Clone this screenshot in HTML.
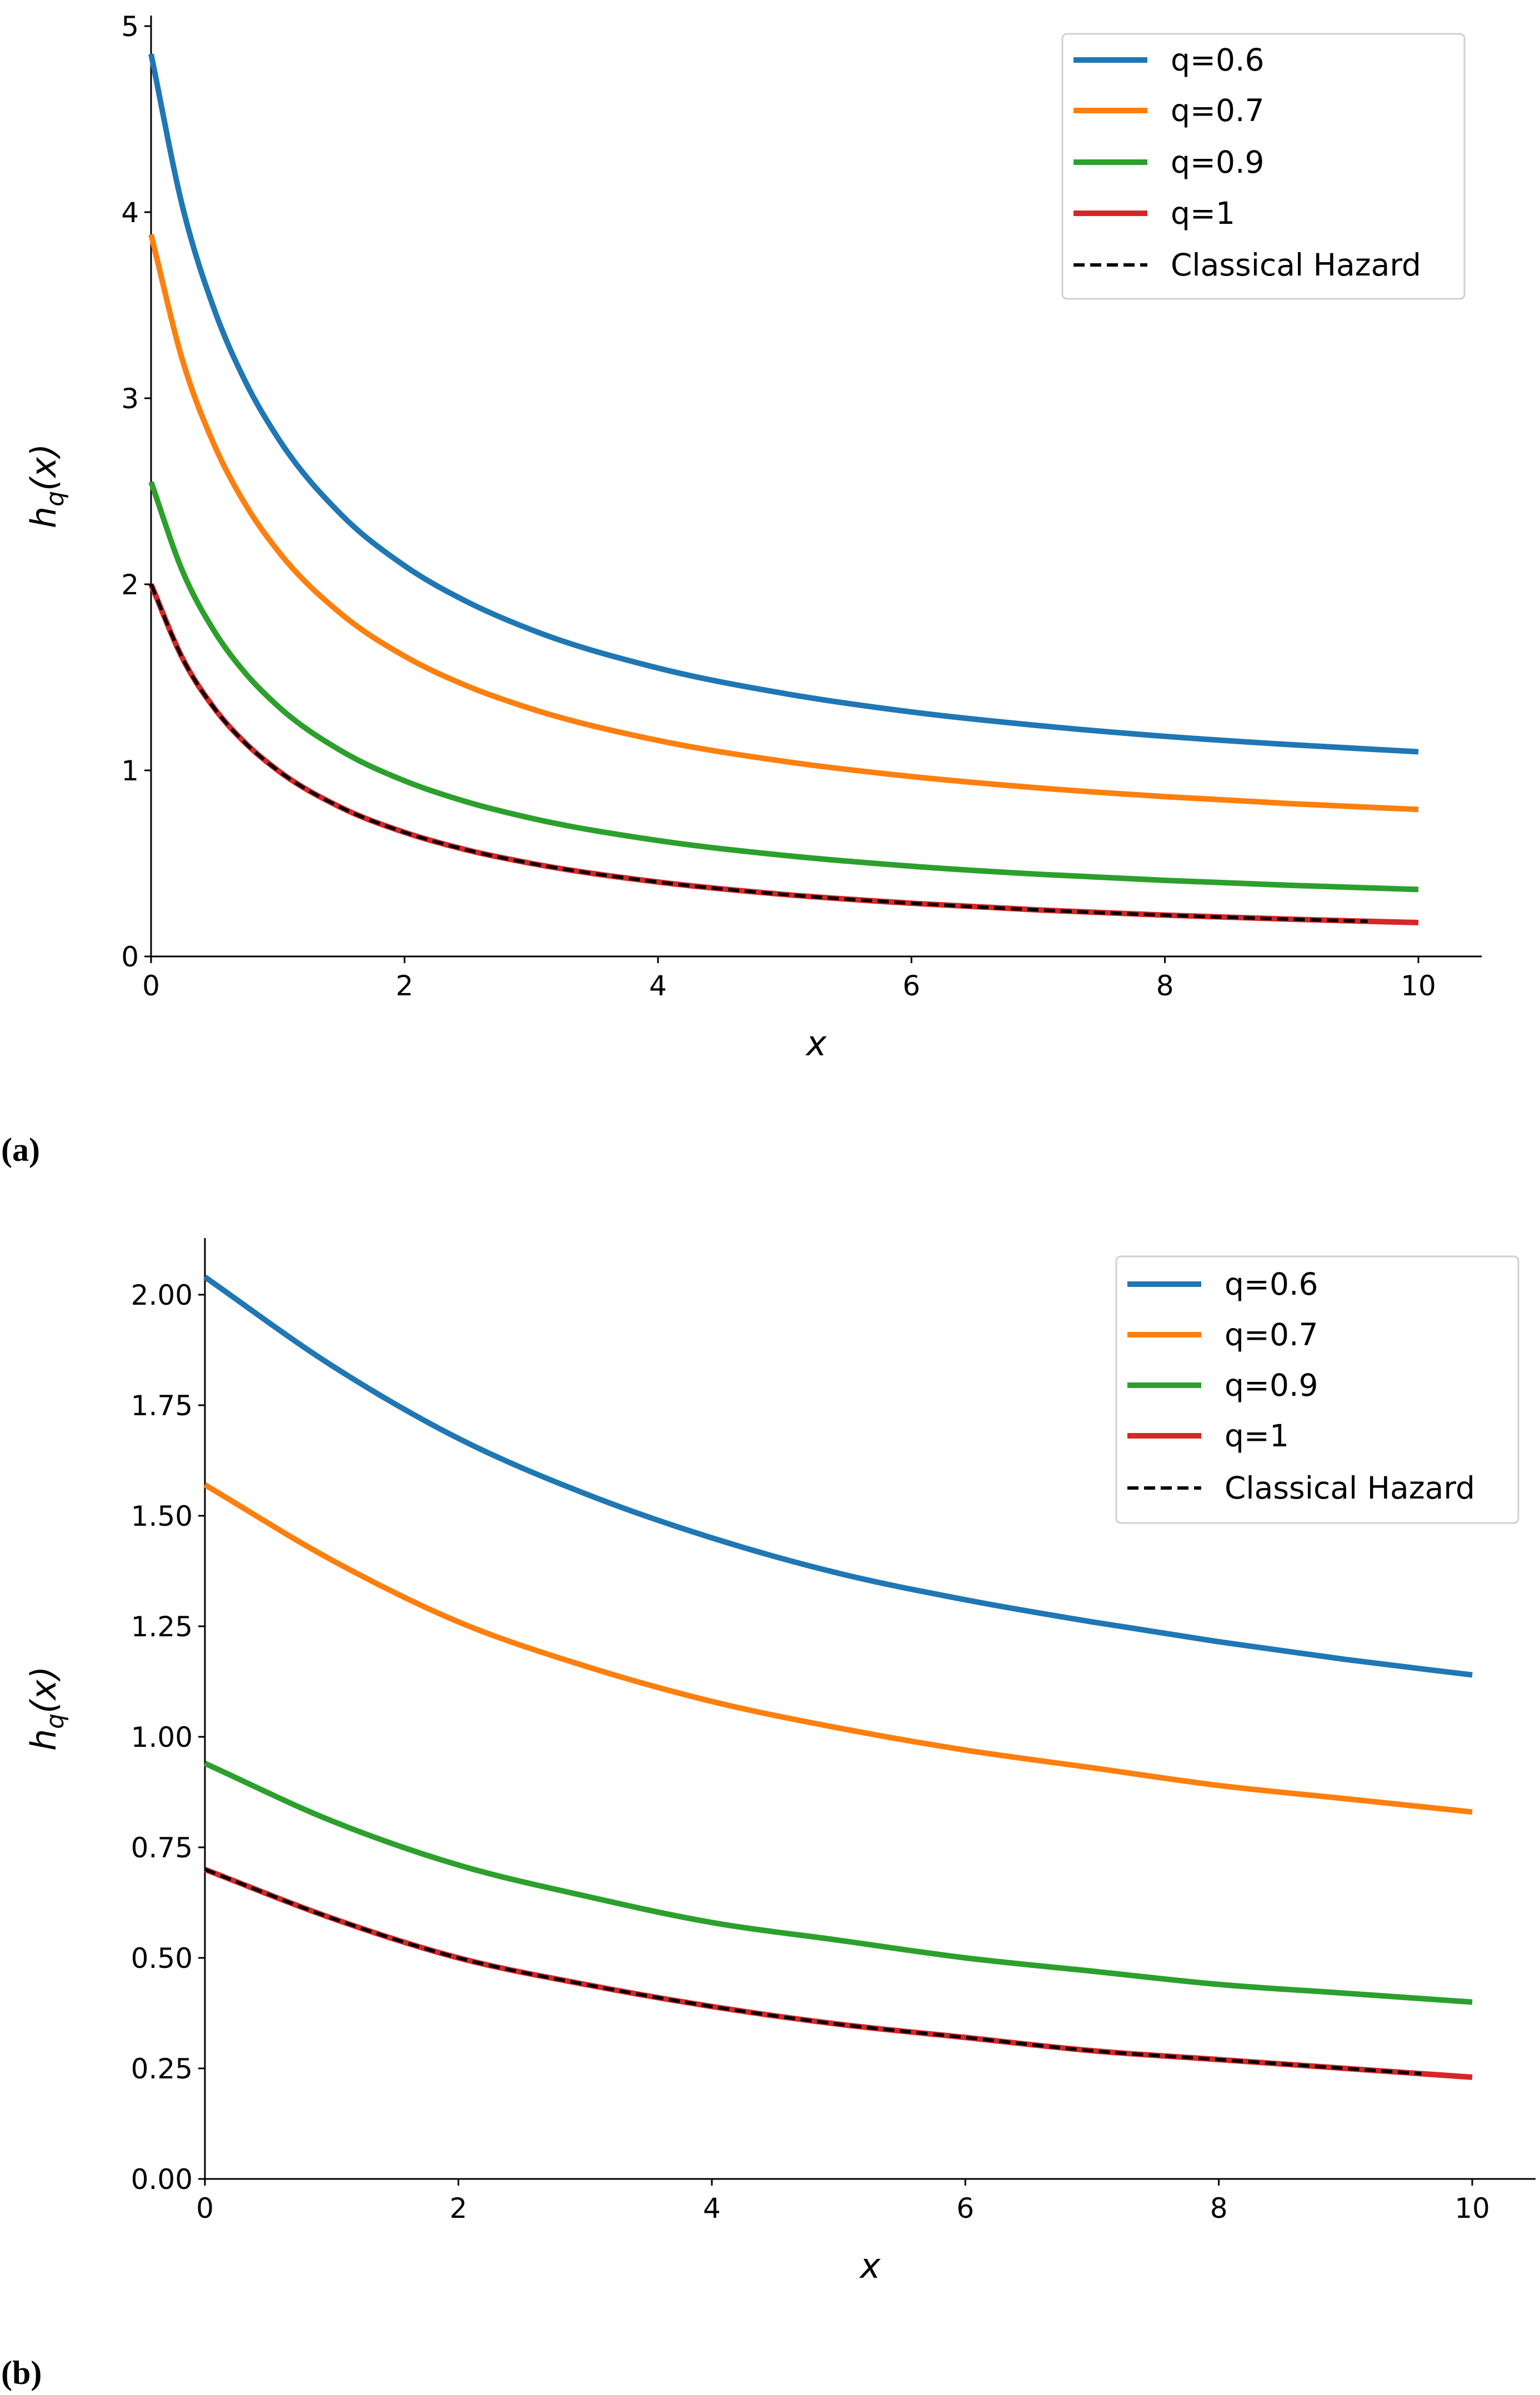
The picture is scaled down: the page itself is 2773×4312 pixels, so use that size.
<!DOCTYPE html>
<html><head><meta charset="utf-8"><style>
html,body{margin:0;padding:0;background:#fff;}
svg{display:block;font-family:"DejaVu Sans","Liberation Sans",sans-serif;}
</style></head><body>
<svg id="fig" width="2773" height="4312" viewBox="0 0 2773 4312" xmlns="http://www.w3.org/2000/svg"></svg>
<script>
const xsA = [0,0.25,0.5,0.75,1,1.5,2,2.5,3,4,5,6,7,8,9,10];
const a_q06 = [4.85,4.025,3.475,3.082,2.788,2.375,2.1,1.904,1.756,1.55,1.413,1.314,1.241,1.183,1.138,1.1];
const a_q07 = [3.88,3.2,2.747,2.423,2.181,1.841,1.614,1.452,1.331,1.161,1.048,0.967,0.906,0.859,0.821,0.79];
const a_q09 = [2.55,2.068,1.747,1.518,1.346,1.105,0.944,0.829,0.743,0.623,0.543,0.485,0.442,0.409,0.382,0.36];
const a_q1  = [2.0,1.6,1.333,1.143,1.0,0.8,0.667,0.571,0.5,0.4,0.333,0.286,0.25,0.222,0.2,0.182];
const a_yTicks = ["0","1","2","3","4","5"];
const xsB = [0,1,2,3,4,5,6,7,8,9,10];
const b_q06 = [2.04,1.84,1.675,1.55,1.45,1.37,1.31,1.26,1.215,1.175,1.14];
const b_q07 = [1.57,1.40,1.26,1.16,1.08,1.02,0.97,0.93,0.89,0.86,0.83];
const b_q09 = [0.94,0.81,0.71,0.64,0.58,0.54,0.50,0.47,0.44,0.42,0.40];
const b_q1  = [0.70,0.59,0.50,0.44,0.39,0.35,0.32,0.29,0.27,0.25,0.23];
const b_yTicks = ["0.00","0.25","0.50","0.75","1.00","1.25","1.50","1.75","2.00"];
const xTicks = ["0","2","4","6","8","10"];
const seriesNames = ["q=0.6","q=0.7","q=0.9","q=1","Classical Hazard"];
const colors = ["#1f77b4","#ff7f0e","#2ca02c","#d62728","#000"];

const NS="http://www.w3.org/2000/svg";
const svg=document.getElementById('fig');
function mk(tag,attrs,parent){const e=document.createElementNS(NS,tag);for(const k in attrs)e.setAttribute(k,attrs[k]);(parent||svg).appendChild(e);return e;}

function pathFrom(xs,ys,sx,sy){
  const n=xs.length, d=[], m=[];
  for(let i=0;i<n-1;i++) d.push((ys[i+1]-ys[i])/(xs[i+1]-xs[i]));
  for(let i=0;i<n;i++){
    if(i==0) m.push(d[0]); else if(i==n-1) m.push(d[n-2]);
    else { const h0=xs[i]-xs[i-1],h1=xs[i+1]-xs[i]; m.push((d[i-1]*h1+d[i]*h0)/(h0+h1)); }
  }
  let p="M"+sx(xs[0])+","+sy(ys[0]);
  for(let i=0;i<n-1;i++){
    const h=xs[i+1]-xs[i];
    p+=" C"+sx(xs[i]+h/3)+","+sy(ys[i]+m[i]*h/3)+" "+sx(xs[i+1]-h/3)+","+sy(ys[i+1]-m[i+1]*h/3)+" "+sx(xs[i+1])+","+sy(ys[i+1]);
  }
  return p;
}

function chart(cfg){
  const g=mk('g',{});
  
  
  const sx=v=>cfg.x0+(cfg.x10-cfg.x0)*v/10;
  const sy=v=>cfg.yb+(cfg.ytop-cfg.yb)*v/cfg.ymax;
  const cid=cfg.name+'-clip';
  const defs=mk('defs',{},g);const cp=mk('clipPath',{id:cid},defs);
  mk('rect',{x:0,y:0,width:sx(9.6),height:4312},cp);
  const yax=mk('line',{x1:cfg.x0,y1:cfg.yb,x2:cfg.x0,y2:cfg.axTop,stroke:'#000','stroke-width':3},g);
  
  const xax=mk('line',{x1:cfg.x0-1.5,y1:cfg.yb,x2:cfg.axRight,y2:cfg.yb,stroke:'#000','stroke-width':3},g);
  
  xTicks.forEach(t=>{const v=+t;
    mk('line',{x1:sx(v),y1:cfg.yb,x2:sx(v),y2:cfg.yb+12,stroke:'#000','stroke-width':3},g);
    const tx=mk('text',{x:sx(v),y:cfg.yb+70,'font-size':50,'text-anchor':'middle',fill:'#000'},g);
    tx.textContent=t;
  });
  cfg.yTicks.forEach(t=>{const v=+t;
    mk('line',{x1:cfg.x0,y1:sy(v),x2:cfg.x0-12,y2:sy(v),stroke:'#000','stroke-width':3},g);
    const tx=mk('text',{x:cfg.x0-22,y:sy(v)+18,'font-size':50,'text-anchor':'end',fill:'#000'},g);
    tx.textContent=t;
  });
  const xl=mk('text',{x:(cfg.x0+cfg.axRight)/2,y:cfg.yb+178,'font-size':62,'font-style':'italic','text-anchor':'middle'},g);
  xl.textContent='x';
  const yl=mk('text',{x:0,y:0,'font-size':62,'font-style':'italic','text-anchor':'middle',transform:`translate(${cfg.ylX},${(cfg.yb+cfg.axTop)/2}) rotate(-90)`},g);
  yl.innerHTML='h<tspan font-size="44" dy="14">q</tspan><tspan dy="-14">(x)</tspan>';
  
  cfg.series.forEach((ys,i)=>{
    const p=mk('path',{d:pathFrom(cfg.xs,ys,sx,sy),fill:'none',stroke:colors[i],'stroke-width':10,'stroke-linejoin':'round'},g);
    
    
  });
  const c=mk('path',{d:pathFrom(cfg.xs,cfg.series[3],sx,sy),fill:'none',stroke:'#000','stroke-width':6,'stroke-dasharray':'20 10','clip-path':`url(#${cid})`},g);
  
  
  const L=cfg.leg;
  const lg=mk('g',{},g);
  
  mk('rect',{x:L.x,y:L.y,width:L.w,height:L.h,rx:8,fill:'#fff',stroke:'#d0d0d0','stroke-width':3},lg);
  seriesNames.forEach((n,i)=>{
    const yy=L.rows[i];
    const e=mk('g',{},lg);
    
    mk('line',{x1:L.x+20,y1:yy,x2:L.x+153,y2:yy,stroke:colors[i],'stroke-width':i==4?6:10,'stroke-dasharray':i==4?'20 10':'none'},e);
    const t=mk('text',{x:L.x+195,y:yy+19,'font-size':55,fill:'#000'},e);t.textContent=n;
  });
  const lab=mk('text',{x:2,y:cfg.labY,'font-size':60,'font-weight':'bold','font-family':'"Liberation Serif",serif'},g);
  lab.textContent=cfg.label;
}

chart({name:'chart-a',x0:272,x10:2554,yb:1722,ytop:47,ymax:5,axTop:28,axRight:2668,ylX:100,
  xs:xsA,series:[a_q06,a_q07,a_q09,a_q1],yTicks:a_yTicks,label:'(a)',labY:2090,
  leg:{x:1913,y:61,w:724,h:477,rows:[108,199,292,384,477]}});
chart({name:'chart-b',x0:369,x10:2651,yb:3923,ytop:2331,ymax:2,axTop:2229,axRight:2765,ylX:100,
  xs:xsB,series:[b_q06,b_q07,b_q09,b_q1],yTicks:b_yTicks,label:'(b)',labY:4292,
  leg:{x:2010,y:2262,w:724,h:480,rows:[2312,2403,2494,2585,2679]}});
</script>
</body></html>
